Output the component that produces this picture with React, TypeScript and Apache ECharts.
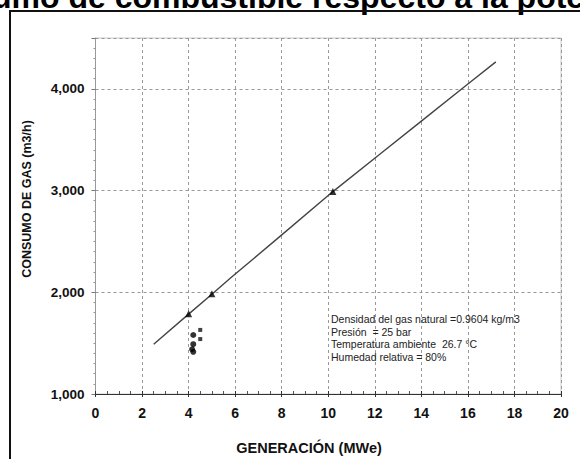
import React, { useEffect, useRef } from "react";
import * as echarts from "echarts";

const titleText = "Consumo de combustible respecto a la potencia";
const xAxisTitle = "GENERACIÓN (MWe)";
const yAxisTitle = "CONSUMO DE GAS (m3/h)";

const fitX = [2.5, 4, 5, 5.8, 7.8, 10.2, 12.2, 14, 16, 17.2];
const fitY = [1490, 1785, 1980, 2140, 2525, 2990, 3355, 3683, 4047, 4265];

const triX = [4, 5, 10.2];
const triY = [1790, 1985, 2990];

const dotX = [4.2, 4.2, 4.15, 4.2];
const dotY = [1580, 1490, 1440, 1415];

const sqX = [4.5, 4.5];
const sqY = [1630, 1540];

const notes = [
  "Densidad del gas natural =0.9604 kg/m3",
  "Presión  = 25 bar",
  "Temperatura ambiente  26.7 °C",
  "Humedad relativa = 80%",
];

const FONT = "'Liberation Sans', Arial, sans-serif";

function fmtThousands(v: number): string {
  const s = String(Math.round(v));
  return s.replace(/\B(?=(\d{3})+(?!\d))/g, ",");
}

const zip = (xs: number[], ys: number[]) => xs.map((x, i) => [x, ys[i]]);

export default function App() {
  const ref = useRef<HTMLDivElement>(null);
  useEffect(() => {
    if (!ref.current) return;
    const chart = echarts.init(ref.current, null, { renderer: "svg" });
    const gridLine = { show: true, lineStyle: { color: "#999999", type: [3, 3], width: 1 } };
    chart.setOption({
      animation: false,
      backgroundColor: "#ffffff",
      grid: { left: 95.5, right: 19, top: 38, bottom: 65, show: true, borderColor: "#cccccc", borderWidth: 1 },
      xAxis: [
        {
          type: "value",
          min: 0,
          max: 20,
          interval: 2,
          position: "bottom",
          axisLine: { show: true, onZero: false, lineStyle: { color: "#333", width: 1 } },
          axisTick: { show: true, inside: false, length: 3, lineStyle: { color: "#333" } },
          minorTick: { show: false },
          axisLabel: { margin: 12, fontFamily: FONT, fontWeight: "bold", fontSize: 14, color: "#111" },
          splitLine: gridLine,
        },
        {
          type: "value",
          min: 0,
          max: 20,
          interval: 2,
          position: "bottom",
          axisLine: { show: false, onZero: false },
          axisTick: { show: true, inside: true, length: 3, lineStyle: { color: "#333" } },
          minorTick: { show: true, splitNumber: 4, length: 3, lineStyle: { color: "#555" } },
          axisLabel: { show: false },
          splitLine: { show: false },
        },
      ],
      yAxis: [
        {
          type: "value",
          min: 1000,
          max: 4500,
          interval: 1000,
          axisLine: { show: true, onZero: false, lineStyle: { color: "#999", width: 1 } },
          axisTick: { show: true, inside: false, length: 4, lineStyle: { color: "#777" } },
          minorTick: { show: true, splitNumber: 10, length: 2, lineStyle: { color: "#999" } },
          axisLabel: {
            margin: 11,
            fontFamily: FONT,
            fontWeight: "bold",
            fontSize: 13.5,
            color: "#111",
            showMaxLabel: false,
            formatter: (v: number) => (v % 1000 === 0 ? fmtThousands(v) : ""),
          },
          splitLine: gridLine,
        },
      ],
      series: [
        {
          type: "line",
          data: zip(fitX, fitY),
          showSymbol: false,
          symbol: "none",
          lineStyle: { color: "#444", width: 1.4 },
          z: 3,
        },
        {
          type: "scatter",
          data: zip(triX, triY),
          symbol: "triangle",
          symbolSize: 7,
          itemStyle: { color: "#000" },
          z: 4,
        },
        {
          type: "scatter",
          data: zip(dotX, dotY),
          symbol: "circle",
          symbolSize: 6,
          itemStyle: { color: "#000" },
          z: 4,
        },
        {
          type: "scatter",
          data: zip(sqX, sqY),
          symbol: "rect",
          symbolSize: 4,
          itemStyle: { color: "#111" },
          z: 4,
        },
      ],
      graphic: [
        {
          type: "text",
          x: -88,
          y: -3.5,
          style: { text: titleText, fontFamily: FONT, fontWeight: "bold", fontSize: 32, fill: "#000", align: "left", verticalAlign: "middle" },
        },
        { type: "line", shape: { x1: 9, y1: 11, x2: 580, y2: 11 }, style: { stroke: "#111", lineWidth: 2 } },
        { type: "line", shape: { x1: 10, y1: 10, x2: 10, y2: 459 }, style: { stroke: "#111", lineWidth: 2 } },
        {
          type: "text",
          x: 309,
          y: 448,
          style: { text: xAxisTitle, fontFamily: FONT, fontWeight: "bold", fontSize: 14.5, fill: "#111", align: "center", verticalAlign: "middle" },
        },
        {
          type: "text",
          x: 27,
          y: 199,
          rotation: Math.PI / 2,
          style: { text: yAxisTitle, fontFamily: FONT, fontWeight: "bold", fontSize: 12.5, fill: "#111", align: "center", verticalAlign: "middle" },
        },
        ...notes.map((t, i) => ({
          type: "text",
          x: 331,
          y: 319 + i * 12.5,
          z: 10,
          style: { text: t, fontFamily: FONT, fontSize: 10.5, fill: "#222", align: "left", verticalAlign: "middle" },
        })),
      ],
    });
    return () => chart.dispose();
  }, []);
  return <div ref={ref} style={{ position: "fixed", left: 0, top: 0, width: 580, height: 459 }} />;
}
